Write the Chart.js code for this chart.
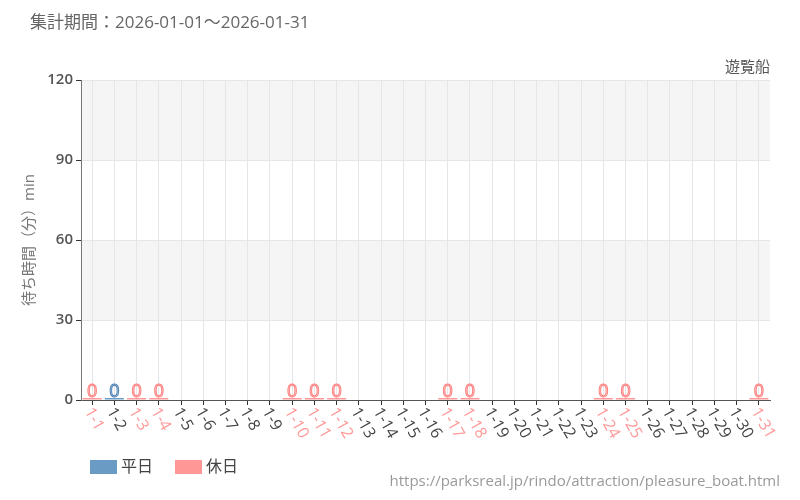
<!DOCTYPE html>
<html><head><meta charset="utf-8">
<script src="https://cdn.jsdelivr.net/npm/chart.js@4/dist/chart.umd.min.js"></script>
<style>html,body{margin:0;padding:0;background:#fff}#wrap{width:800px;height:500px}</style>
</head><body><div id="wrap"><canvas id="c" width="800" height="500"></canvas></div>
<script>
const categories = ['1-1','1-2','1-3','1-4','1-5','1-6','1-7','1-8','1-9','1-10','1-11','1-12','1-13','1-14','1-15','1-16','1-17','1-18','1-19','1-20','1-21','1-22','1-23','1-24','1-25','1-26','1-27','1-28','1-29','1-30','1-31'];
const holidays = ['1-1','1-3','1-4','1-10','1-11','1-12','1-17','1-18','1-24','1-25','1-31'];
const weekdayValues = [null,0,null,null,null,null,null,null,null,null,null,null,null,null,null,null,null,null,null,null,null,null,null,null,null,null,null,null,null,null,null];
const holidayValues = [0,null,0,0,null,null,null,null,null,0,0,0,null,null,null,null,0,0,null,null,null,null,null,0,0,null,null,null,null,null,0];
const yTicks = [0,30,60,90,120];
const titleText = '集計期間：2026-01-01～2026-01-31';
const subtitleText = '遊覧船';
const urlText = 'https://parksreal.jp/rindo/attraction/pleasure_boat.html';
const seriesNames = ['平日','休日'];

const FONT = '"Open Sans","Noto Sans CJK JP",sans-serif';
const BLUE = '#6a9bc4', BLUE_D = '#4a7fb2';
const PINK = '#ff9797', PINK_D = '#ff8080';

const deco = {
  id: 'deco',
  beforeDraw(chart) {
    const {ctx, chartArea: a, scales: {y}} = chart;
    ctx.save();
    ctx.fillStyle = '#f5f5f5';
    const bands = [[90,120],[30,60]];
    bands.forEach(([lo,hi]) => {
      const t = y.getPixelForValue(hi), b = y.getPixelForValue(lo);
      ctx.fillRect(a.left, t, a.right - a.left, b - t);
    });
    ctx.restore();
  },
  afterDraw(chart) {
    const {ctx, chartArea: a, scales: {x}} = chart;
    ctx.save();
    ctx.textBaseline = 'middle';
    // title
    ctx.font = '17px ' + FONT;
    ctx.fillStyle = '#666';
    ctx.textAlign = 'left';
    ctx.fillText(titleText, 30, 23);
    // subtitle
    ctx.font = '15px ' + FONT;
    ctx.fillStyle = '#555';
    ctx.textAlign = 'right';
    ctx.fillText(subtitleText, a.right, 68);
    // url
    ctx.font = '15px ' + FONT;
    ctx.fillStyle = '#9a9a9a';
    ctx.fillText(urlText, 780, 482);
    // legend
    ctx.textAlign = 'left';
    ctx.font = '16px ' + FONT;
    const items = [[BLUE, seriesNames[0], 90], [PINK, seriesNames[1], 175]];
    items.forEach(([col, name, lx]) => {
      ctx.fillStyle = col;
      ctx.fillRect(lx, 460, 27, 14);
      ctx.fillStyle = '#444';
      ctx.fillText(name, lx + 31, 467);
    });
    // x labels rotated
    ctx.font = '16px ' + FONT;
    categories.forEach((c, i) => {
      const px = x.getPixelForTick(i);
      ctx.save();
      ctx.translate(px - 4, a.bottom + 9);
      ctx.rotate(Math.PI / 3);
      ctx.textAlign = 'left';
      ctx.textBaseline = 'middle';
      ctx.fillStyle = holidays.includes(c) ? PINK : '#444';
      ctx.fillText(c, 0, 0);
      ctx.restore();
    });
    // value labels
    chart.data.datasets.forEach((ds, di) => {
      const meta = chart.getDatasetMeta(di);
      meta.data.forEach((bar, i) => {
        const v = ds.data[i];
        if (v === null || v === undefined) return;
        ctx.font = '18px ' + FONT;
        ctx.textAlign = 'center';
        ctx.textBaseline = 'alphabetic';
        ctx.lineWidth = 1;
        ctx.strokeStyle = di === 0 ? BLUE_D : PINK_D;
        ctx.fillStyle = di === 0 ? '#dbe8f3' : '#ffe2e2';
        ctx.fillText(String(v), bar.x, bar.y - 1);
        ctx.strokeText(String(v), bar.x, bar.y - 1);
      });
    });
    ctx.restore();
  }
};

new Chart(document.getElementById('c'), {
  type: 'bar',
  data: {
    labels: categories,
    datasets: [
      {label: seriesNames[0], data: weekdayValues, backgroundColor: BLUE, borderColor: BLUE_D, borderWidth: 0, minBarLength: 2, skipNull: true},
      {label: seriesNames[1], data: holidayValues, backgroundColor: PINK, borderColor: PINK_D, borderWidth: 0, minBarLength: 2, skipNull: true}
    ]
  },
  options: {
    responsive: false,
    animation: false,
    devicePixelRatio: 1,
    layout: {padding: {top: 80, right: 30, bottom: 0, left: 0}},
    categoryPercentage: 0.9,
    barPercentage: 0.95,
    plugins: {legend: {display: false}, title: {display: false}, tooltip: {enabled: false}},
    scales: {
      x: {
        grid: {color: '#e6e6e6', tickColor: '#333', tickLength: 5, offset: false},
        border: {color: '#555', width: 1},
        ticks: {display: false},
        afterFit(s) { s.height = 100; }
      },
      y: {
        min: 0, max: 120,
        afterBuildTicks(s) { s.ticks = yTicks.map(v => ({value: v})); },
        grid: {color: '#e6e6e6', tickColor: '#333', tickLength: 5},
        border: {color: '#777', width: 1},
        ticks: {font: {family: FONT, size: 15, weight: '600'}, color: '#555', padding: 3},
        title: {display: true, text: '待ち時間（分）min', font: {family: FONT, size: 15}, color: '#777', padding: {top: 21, bottom: 0}},
        afterFit(s) { s.width = 81; }
      }
    }
  },
  plugins: [deco]
});
</script></body></html>
